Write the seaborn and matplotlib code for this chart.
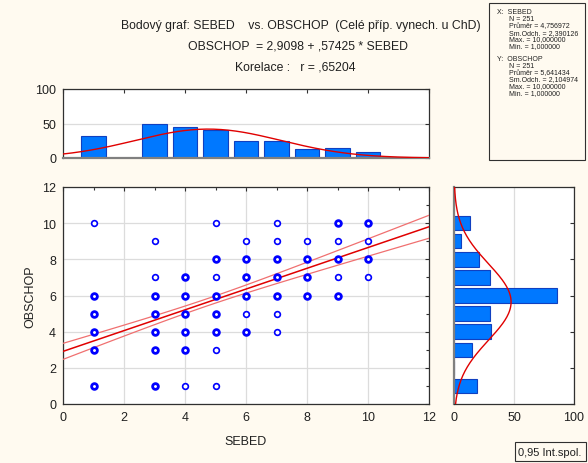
import numpy as np
import pandas as pd
import matplotlib
matplotlib.use("Agg")
import matplotlib.pyplot as plt
from matplotlib.ticker import MultipleLocator
import seaborn as sns

sns.set_theme(style="white")
plt.rcParams['font.family'] = ['Liberation Sans', 'DejaVu Sans']

# ---------------- data ----------------
sebed_levels = [1, 2, 3, 4, 5, 6, 7, 8, 9, 10]
sebed_counts = [32, 0, 50, 45, 40, 24, 24, 13, 14, 9]
obschop_levels = [1, 2, 3, 4, 5, 6, 7, 8, 9, 10]
obschop_counts = [19, 0, 15, 31, 30, 86, 30, 21, 6, 13]

pts_x = [1, 1, 1, 1, 1, 1,
         3, 3, 3, 3, 3, 3, 3,
         4, 4, 4, 4, 4, 4,
         5, 5, 5, 5, 5, 5, 5, 5,
         6, 6, 6, 6, 6, 6,
         7, 7, 7, 7, 7, 7, 7,
         8, 8, 8, 8,
         9, 9, 9, 9, 9,
         10, 10, 10, 10]
pts_y = [10, 6, 5, 4, 3, 1,
         9, 7, 6, 5, 4, 3, 1,
         7, 6, 5, 4, 3, 1,
         10, 8, 7, 6, 5, 4, 3, 1,
         9, 8, 7, 6, 5, 4,
         10, 9, 8, 7, 6, 5, 4,
         9, 8, 7, 6,
         10, 9, 8, 7, 6,
         10, 9, 8, 7]
pts_multi = [0, 1, 1, 1, 1, 1,
             0, 0, 1, 1, 1, 1, 1,
             1, 1, 1, 1, 1, 0,
             0, 1, 0, 1, 1, 1, 0, 0,
             0, 1, 1, 1, 0, 1,
             0, 0, 1, 1, 1, 0, 0,
             0, 1, 1, 1,
             1, 0, 1, 0, 1,
             1, 0, 1, 0]

n_obs = 251
x_mean, x_sd = 4.756972, 2.390126
y_mean, y_sd = 5.641434, 2.104974
intercept, slope, r_corr = 2.9098, 0.57425, 0.65204

title_lines = ["Bodový graf: SEBED    vs. OBSCHOP  (Celé příp. vynech. u ChD)",
               "OBSCHOP  = 2,9098 + ,57425 * SEBED",
               "Korelace :   r = ,65204"]
stats_lines = ["X:  SEBED", "      N = 251", "      Průměr = 4,756972", "      Sm.Odch. = 2,390126",
               "      Max. = 10,000000", "      Min. = 1,000000", "",
               "Y:  OBSCHOP", "      N = 251", "      Průměr = 5,641434", "      Sm.Odch. = 2,104974",
               "      Max. = 10,000000", "      Min. = 1,000000"]

# ---------------- figure ----------------
W, H = 588, 464
BG = "#FFFAF0"
fig = plt.figure(figsize=(W / 100, H / 100), dpi=100, facecolor=BG)

def rect(l, t, r, b):
    return [l / W, 1 - b / H, (r - l) / W, (b - t) / H]

BAR = "#0078FF"
BAREDGE = "#1040C0"
GRID = "#DCDCDC"
TXT = "#202020"
FS = 9

def style(ax):
    ax.set_facecolor("white")
    for s in ax.spines.values():
        s.set_color("#303030")
        s.set_linewidth(0.9)
    ax.tick_params(direction="in", length=3, width=0.8, colors="#303030", labelsize=FS,
                   labelcolor=TXT, pad=5)
    ax.tick_params(which="minor", direction="in", length=2, width=0.8, colors="#303030")

# ---- scatter ----
ax = fig.add_axes(rect(63, 188, 429, 405))
style(ax)
ax.set_xlim(0, 12)
ax.set_ylim(0, 12)
ax.xaxis.set_major_locator(MultipleLocator(2))
ax.yaxis.set_major_locator(MultipleLocator(2))
ax.xaxis.set_minor_locator(MultipleLocator(1))
ax.yaxis.set_minor_locator(MultipleLocator(1))
ax.tick_params(which="both", top=True, right=True)
ax.grid(True, which="major", color=GRID, linewidth=0.9)
ax.set_axisbelow(True)

xx = np.linspace(0, 12, 100)
fit = intercept + slope * xx
s_res = y_sd * np.sqrt(1 - r_corr ** 2) * np.sqrt((n_obs - 1) / (n_obs - 2))
sxx = (n_obs - 1) * x_sd ** 2
se = s_res * np.sqrt(1 / n_obs + (xx - x_mean) ** 2 / sxx)
tval = 1.9695
line_df = pd.DataFrame({"x": xx, "fit": fit, "lo": fit - tval * se, "hi": fit + tval * se})
sns.lineplot(data=line_df, x="x", y="fit", ax=ax, color="#E00000", linewidth=1.1, zorder=3)
sns.lineplot(data=line_df, x="x", y="lo", ax=ax, color="#F07070", linewidth=0.9, zorder=3)
sns.lineplot(data=line_df, x="x", y="hi", ax=ax, color="#F07070", linewidth=0.9, zorder=3)

pdf = pd.DataFrame({"x": pts_x, "y": pts_y, "m": pts_multi})
for m, lw in [(0, 1.2), (1, 2.0)]:
    sub = pdf[pdf["m"] == m]
    sns.scatterplot(data=sub, x="x", y="y", ax=ax, marker="o", s=17, facecolor="white",
                    edgecolor="#0000FF", linewidth=lw, zorder=4)
ax.set_xlabel("SEBED", fontsize=FS, color=TXT, labelpad=9)
ax.set_ylabel("OBSCHOP", fontsize=FS, color=TXT, labelpad=4)

# ---- top histogram ----
axt = fig.add_axes(rect(63, 90, 429, 159))
style(axt)
axt.set_xlim(0, 12)
axt.set_ylim(0, 100)
axt.bar(sebed_levels, sebed_counts, width=0.8, color=BAR, edgecolor=BAREDGE, linewidth=0.8, zorder=2)
gx = np.linspace(0, 12, 200)
gy = n_obs / (x_sd * np.sqrt(2 * np.pi)) * np.exp(-0.5 * ((gx - x_mean) / x_sd) ** 2)
sns.lineplot(x=gx, y=gy, ax=axt, color="#E00000", linewidth=1.0, zorder=3)
axt.set_yticks([0, 50, 100])
axt.xaxis.set_major_locator(MultipleLocator(2))
axt.tick_params(axis="x", bottom=False, top=True, labelbottom=False)
axt.tick_params(axis="y", right=True)
axt.grid(True, axis="y", color=GRID, linewidth=0.9)
axt.set_axisbelow(True)
axt.spines["bottom"].set_color("#808080")
axt.spines["bottom"].set_linewidth(1.6)

# ---- right histogram ----
axr = fig.add_axes(rect(454, 188, 574, 405))
style(axr)
axr.set_ylim(0, 12)
axr.set_xlim(0, 100)
axr.barh(obschop_levels, obschop_counts, height=0.8, color=BAR, edgecolor=BAREDGE, linewidth=0.8, zorder=2)
gy2 = np.linspace(0, 12, 200)
gx2 = n_obs / (y_sd * np.sqrt(2 * np.pi)) * np.exp(-0.5 * ((gy2 - y_mean) / y_sd) ** 2)
axr.plot(gx2, gy2, color="#E00000", linewidth=1.0, zorder=3)
axr.set_xticks([0, 50, 100])
axr.yaxis.set_major_locator(MultipleLocator(2))
axr.tick_params(axis="y", left=False, right=True, labelleft=False)
axr.grid(True, axis="x", color=GRID, linewidth=0.9)
axr.set_axisbelow(True)
axr.spines["left"].set_color("#808080")
axr.spines["left"].set_linewidth(1.6)

# ---- titles ----
TFS = 8.8
fig.text(301 / W, 1 - 26 / H, title_lines[0], ha="center", va="center", fontsize=TFS, color=TXT)
fig.text(298 / W, 1 - 47 / H, title_lines[1], ha="center", va="center", fontsize=TFS, color=TXT)
fig.text(295 / W, 1 - 68 / H, title_lines[2], ha="center", va="center", fontsize=TFS, color=TXT)

# ---- stats box ----
box = plt.Rectangle((489 / W, 1 - 161 / H), 96 / W, 157 / H, transform=fig.transFigure,
                    facecolor=BG, edgecolor="#303030", linewidth=0.8)
fig.patches.append(box)
for i, line in enumerate(stats_lines):
    fig.text(497 / W, 1 - (13 + i * 6.7) / H, line, ha="left", va="center", fontsize=5.0, color=TXT)

# ---- legend box ----
lb = plt.Rectangle((515 / W, 1 - 462 / H), 71 / W, 19 / H, transform=fig.transFigure,
                   facecolor=BG, edgecolor="#303030", linewidth=0.8)
fig.patches.append(lb)
fig.text(550 / W, 1 - 453 / H, "0,95 Int.spol.", ha="center", va="center", fontsize=8, color=TXT)

fig.savefig("out.png", dpi=100, facecolor=BG)
